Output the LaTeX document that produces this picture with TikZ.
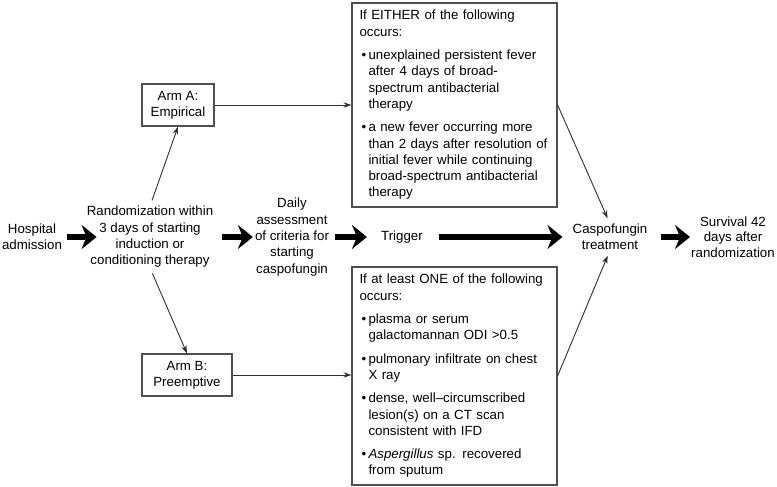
\documentclass[tikz,border=0pt]{standalone}
\usepackage{fontspec}
\setmainfont{Liberation Sans}
\usetikzlibrary{arrows.meta}
\definecolor{boxgray}{HTML}{505050}
\definecolor{linegray}{HTML}{303030}
\newcommand\bl{\makebox[9pt][l]{\hspace{2pt}•}}
\newcommand\ind{\hspace*{9pt}}
\begin{document}
\begin{tikzpicture}[x=1pt,y=-1pt,
  txt/.style={font=\fontsize{13.3}{16.3}\selectfont, align=center, inner sep=0pt},
  arm/.style={draw=boxgray, line width=1.2pt, font=\fontsize{13.3}{16.3}\selectfont, align=center, minimum height=42pt, inner sep=0pt},
  cbox/.style={draw=boxgray, line width=1.2pt, minimum width=205pt, text width=190pt, align=left, inner sep=0pt, font=\fontsize{13.3}{16.3}\selectfont},
  big/.style={line width=6pt, -{Stealth[length=15pt,width=24pt,inset=5pt]}},
  thinarrow/.style={draw=linegray, line width=0.9pt, -{Stealth[length=8pt,width=5.5pt]}}
]
\useasboundingbox (0,0) rectangle (777,487);

\node[txt] (hosp) at (32,237) {Hospital\\admission};
\node[txt] (rand) at (150,237) {Randomization within\\3 days of starting\\induction or\\conditioning therapy};
\node[txt] (daily) at (292,237) {Daily\\assessment\\of criteria for\\starting\\caspofungin};
\node[txt] (trig) at (402,237) {Trigger};
\node[txt] (caspo) at (610,237) {Caspofungin\\treatment};
\node[txt, font=\fontsize{13.3}{15.3}\selectfont] (surv) at (733,237) {Survival 42\\days after\\randomization};

\node[arm, minimum width=72pt] (armA) at (178,105) {Arm A:\\Empirical};
\node[arm, minimum width=90pt] (armB) at (187,375) {Arm B:\\Preemptive};

\node[cbox, minimum height=204pt] (topbox) at (454.5,105) {If EITHER of the following\\occurs:\\[7pt]
\bl unexplained persistent fever\\\ind after 4 days of broad-\\\ind spectrum antibacterial\\\ind therapy\\[7pt]
\bl a new fever occurring more\\\ind than 2 days after resolution of\\\ind initial fever while continuing\\\ind broad-spectrum antibacterial\\\ind therapy};

\node[cbox, minimum height=218pt] (botbox) at (454.5,376) {If at least ONE of the following\\occurs:\\[7pt]
\bl plasma or serum\\\ind galactomannan ODI >0.5\\[7pt]
\bl pulmonary infiltrate on chest\\\ind X ray\\[7pt]
\bl dense, well–circumscribed\\\ind lesion(s) on a CT scan\\\ind consistent with IFD\\[7pt]
\bl \textit{Aspergillus} sp. recovered\\\ind from sputum};

\draw[big, shorten <=5pt, shorten >=-10pt] (hosp) -- (rand);
\draw[big, shorten <=9pt, shorten >=2pt] (rand) -- (daily);
\draw[big, shorten <=6pt, shorten >=14pt] (daily) -- (trig);
\draw[big, shorten <=16pt, shorten >=10pt] (trig) -- (caspo);
\draw[big, shorten <=13pt, shorten >=1pt] (caspo) -- (surv);

\draw[thinarrow, shorten <=6pt] (rand.north) -- (armA.south);
\draw[thinarrow, shorten <=6pt] (rand.south) -- (armB.north);
\draw[thinarrow] (armA.east) -- (armA.east -| topbox.west);
\draw[thinarrow] (armB.east) -- (armB.east -| botbox.west);
\draw[thinarrow, shorten >=6pt] (topbox.east) -- (caspo.north);
\draw[thinarrow, shorten >=6pt] (botbox.east) -- (caspo.south);
\end{tikzpicture}
\end{document}
